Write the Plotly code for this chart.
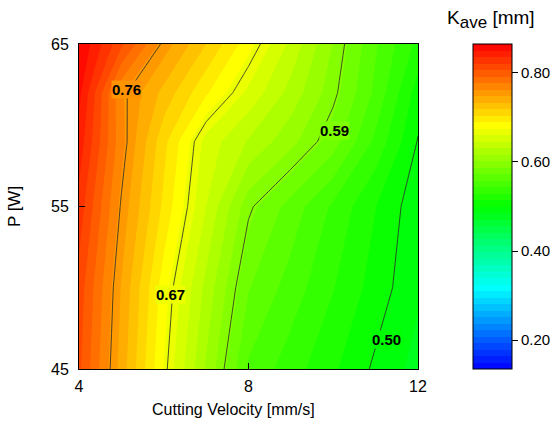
import plotly.graph_objects as go

# Cutting velocity [mm/s] and laser power [W] grid
velocity = [4, 5, 6, 7, 8, 9, 10, 11, 12]
power = [45, 50, 55, 59, 62, 65]

# Average kerf K_ave [mm], one row per power level
k_ave = [
    [0.810, 0.742, 0.675, 0.615, 0.556, 0.536, 0.517, 0.497, 0.480],
    [0.815, 0.747, 0.682, 0.627, 0.574, 0.552, 0.530, 0.508, 0.488],
    [0.830, 0.758, 0.701, 0.646, 0.593, 0.567, 0.541, 0.515, 0.490],
    [0.845, 0.768, 0.709, 0.655, 0.630, 0.607, 0.580, 0.540, 0.499],
    [0.855, 0.765, 0.729, 0.692, 0.657, 0.626, 0.594, 0.555, 0.508],
    [0.865, 0.810, 0.756, 0.719, 0.681, 0.642, 0.601, 0.560, 0.525],
]

# Labelled iso-lines and where each label sits (velocity, power)
iso_levels = [0.50, 0.59, 0.67, 0.76]
iso_label_at = [(11.26, 46.8), (10.04, 59.7), (6.15, 49.6), (5.13, 62.2)]

# Colour range of the filled bands
k_min, k_max, n_bands = 0.135, 0.865, 50
cbar_ticks = [0.20, 0.40, 0.60, 0.80]

FONT = "Arial, Liberation Sans, sans-serif"

jet_like = [
    [0.00, (0, 0, 255)],
    [0.25, (0, 255, 255)],
    [0.50, (0, 255, 0)],
    [0.75, (255, 255, 0)],
    [1.00, (255, 0, 0)],
]
colorscale = [[p, "rgb(%d,%d,%d)" % c] for p, c in jet_like]


def color_at(value):
    """Colour of the scale at a K_ave value."""
    t = min(max((value - k_min) / (k_max - k_min), 0.0), 1.0)
    for (p0, c0), (p1, c1) in zip(jet_like[:-1], jet_like[1:]):
        if p0 <= t <= p1:
            f = (t - p0) / (p1 - p0)
            return "rgb(%d,%d,%d)" % tuple(round(a + (b - a) * f) for a, b in zip(c0, c1))
    return "rgb(%d,%d,%d)" % jet_like[-1][1]


fig = go.Figure()

fig.add_trace(go.Contour(
    x=velocity, y=power, z=k_ave,
    colorscale=colorscale,
    zmin=k_min, zmax=k_max,
    autocontour=False,
    contours=dict(start=k_min, end=k_max, size=(k_max - k_min) / n_bands,
                  coloring="fill", showlines=False),
    line=dict(width=0, smoothing=0),
    colorbar=dict(
        x=(473 - 79) / 339, xanchor="left", xpad=0,
        y=0.5, yanchor="middle", ypad=0,
        thickness=39, thicknessmode="pixels",
        len=325, lenmode="pixels",
        outlinewidth=1, outlinecolor="black",
        tickvals=cbar_ticks, tickformat=".2f",
        ticks="outside", ticklen=6, tickcolor="black",
        tickfont=dict(family=FONT, size=15, color="black"),
    ),
    hoverinfo="x+y+z",
))

for lvl in iso_levels:
    fig.add_trace(go.Contour(
        x=velocity, y=power, z=k_ave,
        autocontour=False,
        contours=dict(start=lvl, end=lvl, size=0.01, coloring="none",
                      showlabels=False),
        line=dict(color="rgb(40,40,40)", width=0.8, smoothing=0),
        showscale=False,
        hoverinfo="skip",
    ))

annotations = [
    dict(
        text="%.2f" % lvl, x=pos[0], y=pos[1], xref="x", yref="y",
        showarrow=False, xanchor="center", yanchor="middle",
        bgcolor=color_at(lvl), borderpad=0,
        font=dict(family=FONT, size=15, color="black", weight="bold"),
    )
    for lvl, pos in zip(iso_levels, iso_label_at)
]
# colour bar title
annotations.append(dict(
    text="K<sub><span style='font-size:17px'>ave</span></sub> [mm]",
    xref="paper", yref="paper",
    x=(491 - 79) / 339, y=1 + (44 - 20) / 325,
    xanchor="center", yanchor="middle",
    showarrow=False,
    font=dict(family=FONT, size=19, color="black"),
))
# x-axis title
annotations.append(dict(
    text="Cutting Velocity [mm/s]",
    xref="paper", yref="paper",
    x=(233 - 79) / 339, y=-(410 - 369) / 325,
    xanchor="center", yanchor="middle",
    showarrow=False,
    font=dict(family=FONT, size=16, color="black"),
))

fig.update_layout(
    width=557, height=425,
    margin=dict(l=79, r=139, t=44, b=56, autoexpand=False),
    paper_bgcolor="white", plot_bgcolor="white",
    font=dict(family=FONT, size=15, color="black"),
    showlegend=False,
    xaxis=dict(
        range=[4, 12], tickvals=[4, 8, 12],
        ticks="inside", ticklen=6, tickcolor="black",
        showline=True, linecolor="black", linewidth=1, mirror=True,
        showgrid=False, zeroline=False,
        tickfont=dict(size=16), ticklabelstandoff=3,
    ),
    yaxis=dict(
        range=[45, 65], tickvals=[45, 55, 65],
        ticks="inside", ticklen=6, tickcolor="black",
        showline=True, linecolor="black", linewidth=1, mirror=True,
        showgrid=False, zeroline=False,
        tickfont=dict(size=16), ticklabelstandoff=6,
        title=dict(text="P [W]", font=dict(size=17), standoff=26),
    ),
    annotations=annotations,
)

fig.write_html("out.html")
